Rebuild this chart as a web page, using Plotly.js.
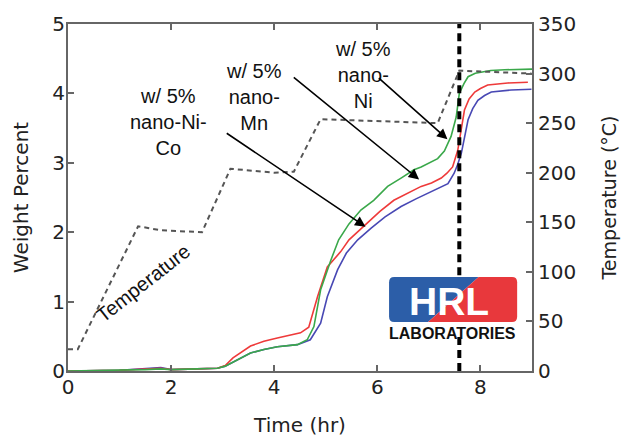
<!DOCTYPE html>
<html>
<head>
<meta charset="utf-8">
<script src="https://cdn.plot.ly/plotly-3.0.1.min.js"></script>
<style>html,body{margin:0;padding:0;background:#fff;}#chart{width:623px;height:437px;}</style>
</head>
<body>
<div id="chart"></div>
<script>
// ---- data ----
const tempTime = [0, 0.19, 1.36, 1.79, 2.6, 3.15, 4.0, 4.38, 4.9, 7.17, 7.59, 8.99];
const tempValue = [22, 22, 146, 142, 140, 204, 200, 201, 254, 250, 303, 300];

const niTime = [0, 1.0, 1.5, 1.8, 2.0, 2.5, 2.9, 3.05, 3.2, 3.54, 3.8, 4.06, 4.45, 4.64, 4.77, 4.9, 5.1, 5.25, 5.45, 5.68, 5.93, 6.2, 6.46, 6.71, 6.85, 7.17, 7.3, 7.43, 7.53, 7.59, 7.68, 7.76, 7.9, 8.02, 8.2, 8.47, 9.0];
const niWeight = [0, 0.01, 0.02, 0.03, 0.02, 0.03, 0.04, 0.07, 0.13, 0.26, 0.31, 0.35, 0.38, 0.45, 0.64, 1.17, 1.6, 1.89, 2.12, 2.32, 2.46, 2.66, 2.78, 2.9, 2.94, 3.06, 3.17, 3.38, 3.66, 4.0, 4.14, 4.24, 4.29, 4.31, 4.33, 4.34, 4.35];

const mnTime = [0, 1.0, 1.8, 2.0, 2.5, 2.9, 3.05, 3.2, 3.54, 3.8, 4.06, 4.51, 4.67, 4.84, 5.03, 5.29, 5.45, 5.81, 6.05, 6.32, 6.6, 6.85, 7.05, 7.24, 7.35, 7.46, 7.56, 7.62, 7.69, 7.78, 7.89, 8.0, 8.14, 8.53, 8.92];
const mnWeight = [0, 0.01, 0.04, 0.02, 0.03, 0.04, 0.08, 0.19, 0.36, 0.43, 0.475, 0.55, 0.63, 1.07, 1.5, 1.72, 1.89, 2.13, 2.3, 2.46, 2.56, 2.66, 2.71, 2.78, 2.85, 2.94, 3.18, 3.45, 3.76, 3.92, 4.02, 4.07, 4.12, 4.15, 4.16];

const nicoTime = [0, 1.0, 1.8, 2.0, 2.5, 2.9, 3.05, 3.2, 3.54, 3.8, 4.06, 4.45, 4.7, 4.9, 5.03, 5.23, 5.4, 5.62, 5.88, 6.15, 6.46, 6.75, 6.98, 7.2, 7.37, 7.49, 7.56, 7.63, 7.7, 7.76, 7.85, 7.95, 8.08, 8.21, 8.6, 8.99];
const nicoWeight = [0, 0.01, 0.05, 0.02, 0.03, 0.04, 0.07, 0.13, 0.26, 0.31, 0.35, 0.38, 0.45, 0.69, 1.07, 1.46, 1.7, 1.89, 2.06, 2.22, 2.37, 2.48, 2.56, 2.64, 2.7, 2.85, 2.98, 3.14, 3.4, 3.62, 3.78, 3.9, 3.97, 4.02, 4.05, 4.06];

// vertical dashed marker line at t = 7.59 hr (hidden behind the logo between 0.5 and 1.38)
const markerTime = [7.59, 7.59, null, 7.59, 7.59];
const markerSpan = [0, 0.5, null, 1.38, 5];
const xTicks = [0, 2, 4, 6, 8];

// label positions (data units) and arrow ends
const labels = [
  {text: 'w/ 5%<br>nano-Ni-<br>Co', x: 1.94, y: 3.59, tail: [3.05, 3.44], tip: [5.77, 2.08]},
  {text: 'w/ 5%<br>nano-<br>Mn', x: 3.6, y: 3.95, tail: [4.35, 4.25], tip: [6.81, 2.76]},
  {text: 'w/ 5%<br>nano-<br>Ni', x: 5.72, y: 4.27, tail: [6.0, 4.24], tip: [7.36, 3.34]}
];

const tickFont = {family: 'DejaVu Sans', size: 20, color: '#222'};
const titleFont = {family: 'DejaVu Sans', size: 20, color: '#222'};

const traces = [
  {x: tempTime, y: tempValue, yaxis: 'y2', mode: 'lines', line: {color: '#555', width: 2, dash: '5px,4px'}, hoverinfo: 'skip'},
  {x: nicoTime, y: nicoWeight, mode: 'lines', line: {color: '#4848b4', width: 1.6}},
  {x: mnTime, y: mnWeight, mode: 'lines', line: {color: '#ee3a3a', width: 1.6}},
  {x: niTime, y: niWeight, mode: 'lines', line: {color: '#3aa84a', width: 1.6}},
  {x: markerTime, y: markerSpan, mode: 'lines', connectgaps: false, line: {color: '#000', width: 4, dash: '8px,5px'}}
];

const annFont = {family: 'Liberation Sans, Arial', size: 20, color: '#111'};
const annotations = [];
labels.forEach(l => {
  annotations.push({x: l.x, y: l.y, xref: 'x', yref: 'y', text: l.text, showarrow: false, font: annFont, align: 'center'});
  annotations.push({x: l.tip[0], y: l.tip[1], ax: l.tail[0], ay: l.tail[1], xref: 'x', yref: 'y', axref: 'x', ayref: 'y', text: '', showarrow: true, arrowhead: 2, arrowsize: 1.3, arrowwidth: 1.6, arrowcolor: '#000'});
});
annotations.push({x: 1.46, y: 1.27, xref: 'x', yref: 'y', text: 'Temperature', textangle: -38, showarrow: false, font: annFont});

// HRL logo (paper coordinates)
const lx0 = 0.692, lx1 = 0.968, ly0 = 0.141, ly1 = 0.271, dTop = 0.885, dBot = 0.776, rx = 0.011, ry = 0.015;
const bluePath = `M ${lx0+rx},${ly1} L ${dTop},${ly1} L ${dBot},${ly0} L ${lx0+rx},${ly0} Q ${lx0},${ly0} ${lx0},${ly0+ry} L ${lx0},${ly1-ry} Q ${lx0},${ly1} ${lx0+rx},${ly1} Z`;
const redPath = `M ${dTop},${ly1} L ${lx1-rx},${ly1} Q ${lx1},${ly1} ${lx1},${ly1-ry} L ${lx1},${ly0+ry} Q ${lx1},${ly0} ${lx1-rx},${ly0} L ${dBot},${ly0} Z`;
annotations.push({x: 0.821, y: 0.2017, xref: 'paper', yref: 'paper', xanchor: 'center', yanchor: 'middle', text: '<b>HRL</b>', showarrow: false, font: {family: 'Liberation Sans, Arial', size: 39, color: '#fff'}});
annotations.push({x: 0.829, y: 0.108, xref: 'paper', yref: 'paper', xanchor: 'center', yanchor: 'middle', text: '<b>LABORATORIES</b>', showarrow: false, font: {family: 'Liberation Sans, Arial', size: 16, color: '#111'}});

const shapes = [
  {type: 'path', xref: 'paper', yref: 'paper', path: bluePath, fillcolor: '#2c5ea8', line: {width: 0}, layer: 'above'},
  {type: 'path', xref: 'paper', yref: 'paper', path: redPath, fillcolor: '#e8383c', line: {width: 0}, layer: 'above'}
];

const layout = {
  width: 623, height: 437,
  margin: {l: 68, r: 91, t: 24, b: 66},
  paper_bgcolor: '#fff', plot_bgcolor: '#fff',
  showlegend: false,
  xaxis: {range: [0, 9], tickvals: xTicks, ticks: 'inside', ticklen: 6, tickwidth: 2, tickcolor: '#666',
    showline: true, linecolor: '#666', linewidth: 2, mirror: 'ticks', showgrid: false, zeroline: false,
    ticklabelstandoff: -3,
    tickfont: tickFont, title: {text: 'Time (hr)', font: titleFont, standoff: 20}},
  yaxis: {range: [0, 5], dtick: 1, ticks: 'inside', ticklen: 6, tickwidth: 2, tickcolor: '#666',
    showline: true, linecolor: '#666', linewidth: 2, mirror: true, showgrid: false, zeroline: false,
    ticklabelstandoff: -3,
    tickfont: tickFont, title: {text: 'Weight Percent', font: titleFont, standoff: 18}},
  yaxis2: {range: [0, 350], dtick: 50, overlaying: 'y', side: 'right', ticks: 'inside', ticklen: 6, tickwidth: 2, tickcolor: '#666',
    showline: true, linecolor: '#666', linewidth: 2, showgrid: false, zeroline: false,
    tickfont: tickFont, title: {text: 'Temperature (°C)', font: {family: 'DejaVu Sans', size: 19, color: '#222'}, standoff: 28}},
  annotations: annotations,
  shapes: shapes
};

Plotly.newPlot('chart', traces, layout, {displayModeBar: false, staticPlot: true});
</script>
</body>
</html>
